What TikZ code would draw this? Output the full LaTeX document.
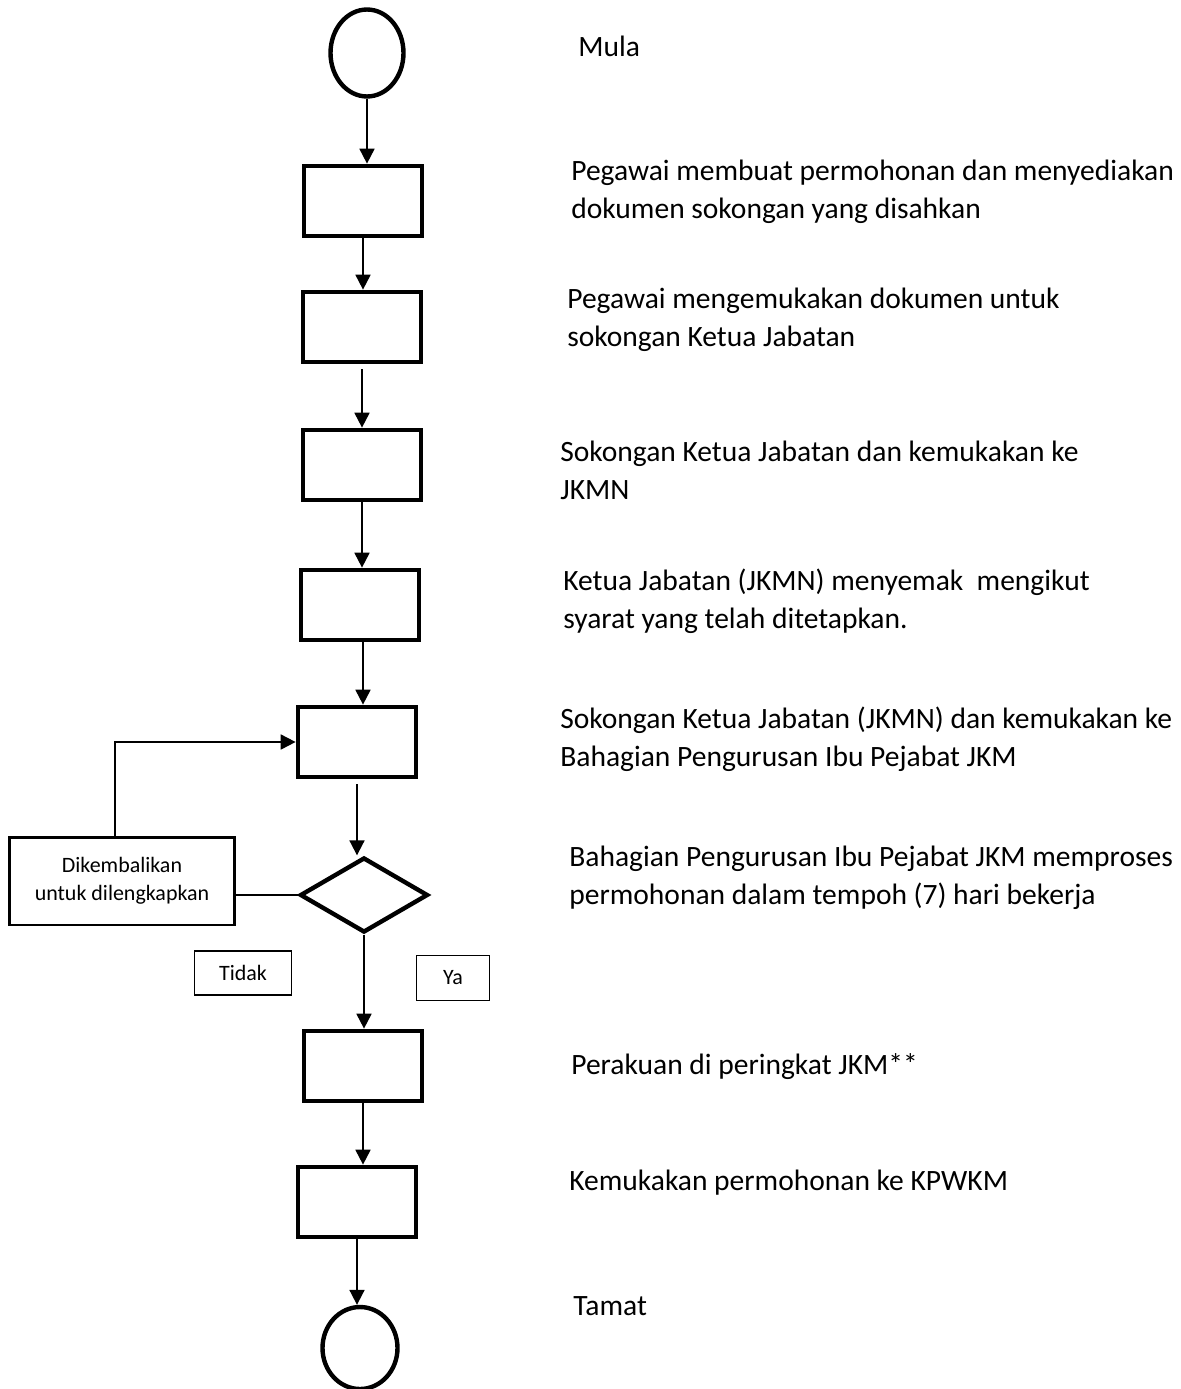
\documentclass[tikz,border=0pt]{standalone}
\usepackage{fontspec}
\setmainfont{Carlito}
\usetikzlibrary{shapes.geometric,arrows.meta}
\begin{document}
\begin{tikzpicture}[x=0.02cm, y=-0.02cm]
	\tikzstyle{Kotak} = [rectangle, minimum width=2.36cm, minimum height=1.4cm, draw=black, line width = 2.7pt]
	\tikzstyle{Bulat} = [ellipse, minimum width=1.46cm, minimum height=1.74cm, draw=black, line width = 2.5pt]
	\tikzstyle{Keputusan} = [diamond, aspect=1.7, inner sep=0pt, minimum width=2.56cm, minimum height=1.5cm, draw=black, line width = 2.5pt]
	\tikzstyle{Label} = [rectangle, text centered, draw=black, line width = 0.8pt, font=\fontsize{12.5}{15}\selectfont]
	\tikzstyle{Teks} = [anchor=west, align=left, inner sep=0pt, font=\fontsize{16.8}{21.5}\selectfont]
	\tikzstyle{arrow} = [line width=1.1pt,-{Triangle[width=8.5pt,length=8.5pt]}]
	\useasboundingbox (0,0) rectangle (1180,1389);
	
	\node (mula) [Bulat] at (367,53) {};
	\node (s1) [Kotak] at (363,201) {};
	\node (s2) [Kotak] at (362,327) {};
	\node (s3) [Kotak] at (362,465) {};
	\node (s4) [Kotak] at (360,605) {};
	\node (s5) [Kotak] at (357,742) {};
	\node (dec) [Keputusan] at (364,895) {};
	\node (s6) [Kotak] at (363,1066) {};
	\node (s7) [Kotak] at (357,1202) {};
	\node (tamat) [Bulat, minimum width=1.5cm, minimum height=1.64cm] at (360,1348) {};
	\node (balik) [Label, line width=1.7pt, minimum width=4.5cm, minimum height=1.76cm, align=center, font=\fontsize{12.5}{16}\selectfont] at (122,881) {Dikembalikan\\untuk dilengkapkan};
	\node (tidak) [Label, minimum width=1.94cm, minimum height=0.88cm] at (243,973) {Tidak};
	\node (ya) [Label, minimum width=1.46cm, minimum height=0.9cm] at (453,978) {Ya};
	
	\node (tmula) [Teks] at (578,46) {Mula};
	\node (t1) [Teks] at (571,192) {Pegawai membuat permohonan dan menyediakan\\dokumen sokongan yang disahkan};
	\node (t2) [Teks] at (567,320) {Pegawai mengemukakan dokumen untuk\\sokongan Ketua Jabatan};
	\node (t3) [Teks] at (560,470) {Sokongan Ketua Jabatan dan kemukakan ke\\JKMN};
	\node (t4) [Teks] at (563,601) {Ketua Jabatan (JKMN) menyemak\ \ mengikut\\syarat yang telah ditetapkan.};
	\node (t5) [Teks] at (560,739) {Sokongan Ketua Jabatan (JKMN) dan kemukakan ke\\Bahagian Pengurusan Ibu Pejabat JKM};
	\node (t6) [Teks] at (569,878) {Bahagian Pengurusan Ibu Pejabat JKM memproses\\permohonan dalam tempoh (7) hari bekerja};
	\node (t7) [Teks] at (571,1067) {Perakuan di peringkat JKM**};
	\node (t8) [Teks] at (569,1183) {Kemukakan permohonan ke KPWKM};
	\node (ttamat) [Teks] at (573,1306) {Tamat};
	
	\draw [arrow] (mula.south) -- (mula.south |- s1.north);
	\draw [arrow] (s1.south) -- (s1.south |- s2.north);
	\draw [arrow] ([yshift=-0.1cm]s2.south) -- (s2.south |- s3.north);
	\draw [arrow] (s3.south) -- (s3.south |- s4.north);
	\draw [arrow] ([xshift=0.06cm]s4.south) -- ([xshift=0.06cm]s4.south |- s5.north);
	\draw [arrow] ([yshift=-0.1cm]s5.south) -- (s5.south |- dec.north);
	\draw [arrow] (dec.south) -- (dec.south |- s6.north);
	\draw [arrow] (s6.south) -- (s6.south |- s7.north);
	\draw [arrow] (s7.south) -- (s7.south |- tamat.north);
	\draw [line width=1.1pt] (dec.west) -- (dec.west -| balik.east);
	\draw [arrow] ([xshift=-0.14cm]balik.north) |- (s5.west);
\end{tikzpicture}
\end{document}
